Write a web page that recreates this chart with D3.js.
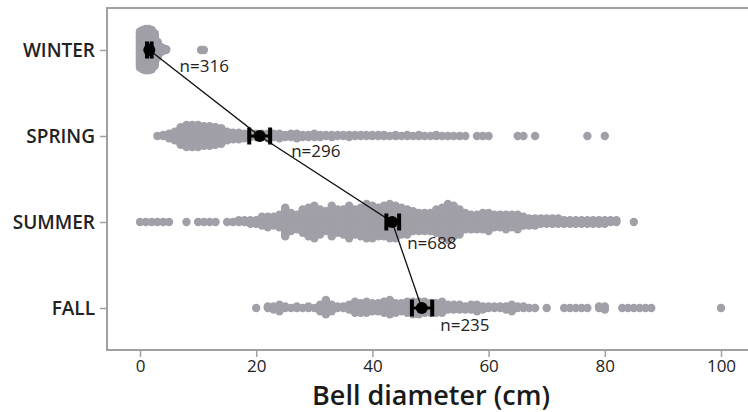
<!DOCTYPE html>
<html>
<head>
<meta charset="utf-8">
<script src="https://cdn.jsdelivr.net/npm/d3@7"></script>
<style>
  body { margin: 0; background: #fff; }
  svg { display: block; font-family: 'Open Sans', sans-serif; }
</style>
</head>
<body>
<div id="viz"></div>
<script>
// seasons, top to bottom
var seasons = ['WINTER', 'SPRING', 'SUMMER', 'FALL'];
var nLabels = ['n=316', 'n=296', 'n=688', 'n=235'];

// mean and 95% CI per season (cm)
var means = [1.6, 20.6, 43.4, 48.5];
var ciLow = [1.2, 18.8, 42.4, 46.8];
var ciHigh = [2.0, 22.4, 44.6, 50.3];

var winter = [[0,44],[0.5,48],[1,50],[1.5,50],[2,48],[2.5,40],[3,20],[3.5,8],[4,4],[4.5,2],[10.5,1],[11,1]];
var spring = [[3,1],[4,2],[5,5],[6,9],[7,17],[8,21],[9,21],[10,21],[11,19],[12,19],[13,17],[14,15],[15,9],[16,7],
  [17,7],[18,5],[19,4],[20,4],[21,4],[22,5],[23,4],[24,5],[25,3],[26,4],[27,5],[28,3],[29,3],[30,4],[31,3],[32,2],
  [33,3],[34,2],[35,2],[36,3],[37,2],[38,2],[39,2],[40,2],[41,2],[42,2],[43,1],[44,2],[45,1],[46,2],[47,1],[48,2],
  [49,1],[50,1],[51,2],[52,1],[53,1],[54,1],[55,1],[56,1],[58,1],[59,1],[60,1],[65,1],[66,1],[68,1],[77,1],[80,1]];
var summer = [[0,1],[1,1],[2,1],[3,1],[4,1],[5,1],[8,1],[10,1],[11,1],[12,1],[13,1],[15,1],[16,1],[17,2],[18,2],
  [19,3],[20,3],[21,6],[22,7],[23,6],[24,8],[25,17],[26,11],[27,9],[28,14],[29,17],[30,19],[31,15],[32,12],[33,18],
  [34,14],[35,15],[36,19],[37,15],[38,17],[39,20],[40,19],[41,17],[42,18],[43,20],[44,19],[45,16],[46,15],[47,12],
  [48,11],[49,11],[50,11],[51,14],[52,17],[53,21],[54,18],[55,15],[56,10],[57,9],[58,9],[59,10],[60,11],[61,8],
  [62,8],[63,9],[64,8],[65,9],[66,6],[67,5],[68,5],[69,4],[70,4],[71,4],[72,4],[73,3],[74,3],[75,3],[76,3],[77,3],
  [78,3],[79,3],[80,3],[81,2],[82,2],[85,1]];
var fall = [[20,1],[22,2],[23,3],[24,5],[25,2],[26,1],[27,2],[28,1],[29,2],[30,1],[31,5],[32,10],[33,5],[34,2],
  [35,2],[36,4],[37,8],[38,7],[39,8],[40,6],[41,6],[42,8],[43,10],[44,7],[45,6],[46,8],[47,9],[48,9],[49,8],[50,7],
  [51,7],[52,8],[53,4],[54,4],[55,4],[56,3],[57,4],[58,5],[59,3],[60,2],[61,2],[62,2],[63,3],[64,5],[65,2],[66,2],
  [67,1],[68,1],[70,1],[73,1],[74,1],[75,1],[76,1],[77,1],[79,2],[80,3],[83,1],[84,1],[85,1],[86,1],[87,1],[88,1],[100,1]];
var xTicks = [0, 20, 40, 60, 80, 100];

var groups = [winter, spring, summer, fall];
// vertical spacing between stacked dots, per row (px)
var stackStep = [0.84, 1.1, 1.8, 1.6];

var width = 748, height = 412;
var svg = d3.select('#viz').append('svg')
  .attr('width', width)
  .attr('height', height);

var x = d3.scaleLinear().domain([0, 100]).range([140, 721]);
var y = d3.scalePoint().domain(seasons).range([50, 308]);

var axisColor = '#a0a0a0';

// frame
svg.append('line').attr('x1', 107).attr('x2', 107).attr('y1', 8).attr('y2', 351)
  .attr('stroke', axisColor).attr('stroke-width', 2);
svg.append('line').attr('x1', 106).attr('x2', 748).attr('y1', 350).attr('y2', 350)
  .attr('stroke', axisColor).attr('stroke-width', 2);
svg.append('line').attr('x1', 106).attr('x2', 748).attr('y1', 8).attr('y2', 8)
  .attr('stroke', axisColor).attr('stroke-width', 2);

// x axis
var xAxis = d3.axisBottom(x).tickValues(xTicks).tickSize(7).tickPadding(3);
var gx = svg.append('g').attr('transform', 'translate(0,350)').call(xAxis);
gx.select('.domain').remove();
gx.selectAll('line').attr('stroke', axisColor).attr('stroke-width', 1.5);
gx.selectAll('text').attr('font-size', '17px').attr('fill', '#222')
  .attr('font-family', "'Open Sans', sans-serif");

// y axis
var yAxis = d3.axisLeft(y).tickSize(7).tickPadding(5);
var gy = svg.append('g').attr('transform', 'translate(107,0)').call(yAxis);
gy.select('.domain').remove();
gy.selectAll('line').attr('stroke', axisColor).attr('stroke-width', 1.5);
gy.selectAll('text').attr('font-size', '19px').attr('fill', '#222')
  .attr('font-weight', 600).attr('font-family', "'Open Sans', sans-serif");

// axis title
svg.append('text')
  .text('Bell diameter (cm)')
  .attr('x', 431).attr('y', 405)
  .attr('text-anchor', 'middle')
  .attr('font-size', '27px')
  .attr('font-weight', 600)
  .attr('fill', '#1a1a1a');

// swarm points
var pts = [];
groups.forEach(function(g, gi) {
  g.forEach(function(d) {
    for (var i = 0; i < d[1]; i++) {
      var k = Math.ceil(i / 2) * (i % 2 === 0 ? 1 : -1);
      pts.push({ v: d[0], row: gi, off: k * stackStep[gi] });
    }
  });
});

svg.append('g').selectAll('circle')
  .data(pts)
  .enter().append('circle')
  .attr('cx', function(d) { return x(d.v); })
  .attr('cy', function(d) { return y(seasons[d.row]) + d.off; })
  .attr('r', 4.2)
  .attr('fill', '#a19fa7');

// line through the means
var line = d3.line()
  .x(function(d) { return x(d); })
  .y(function(d, i) { return y(seasons[i]); });
svg.append('path')
  .datum(means)
  .attr('d', line)
  .attr('fill', 'none')
  .attr('stroke', '#111')
  .attr('stroke-width', 1.3);

// error bars
var eb = svg.append('g').selectAll('g')
  .data(seasons)
  .enter().append('g');
eb.append('line')
  .attr('x1', function(d, i) { return x(ciLow[i]); })
  .attr('x2', function(d, i) { return x(ciHigh[i]); })
  .attr('y1', function(d) { return y(d); })
  .attr('y2', function(d) { return y(d); })
  .attr('stroke', '#000').attr('stroke-width', 3);
eb.append('line')
  .attr('x1', function(d, i) { return x(ciLow[i]); })
  .attr('x2', function(d, i) { return x(ciLow[i]); })
  .attr('y1', function(d) { return y(d) - 8.5; })
  .attr('y2', function(d) { return y(d) + 8.5; })
  .attr('stroke', '#000').attr('stroke-width', 4);
eb.append('line')
  .attr('x1', function(d, i) { return x(ciHigh[i]); })
  .attr('x2', function(d, i) { return x(ciHigh[i]); })
  .attr('y1', function(d) { return y(d) - 8.5; })
  .attr('y2', function(d) { return y(d) + 8.5; })
  .attr('stroke', '#000').attr('stroke-width', 4);
eb.append('circle')
  .attr('cx', function(d, i) { return x(means[i]); })
  .attr('cy', function(d) { return y(d); })
  .attr('r', 6)
  .attr('fill', '#000');

// n labels
svg.append('g').selectAll('text')
  .data(nLabels)
  .enter().append('text')
  .text(function(d) { return d; })
  .attr('x', function(d, i) { return x(ciHigh[i]) + [28, 21, 8, 8][i]; })
  .attr('y', function(d, i) { return y(seasons[i]) + [22, 21, 27, 23][i]; })
  .attr('font-size', '17px')
  .attr('fill', '#222');
</script>
</body>
</html>
